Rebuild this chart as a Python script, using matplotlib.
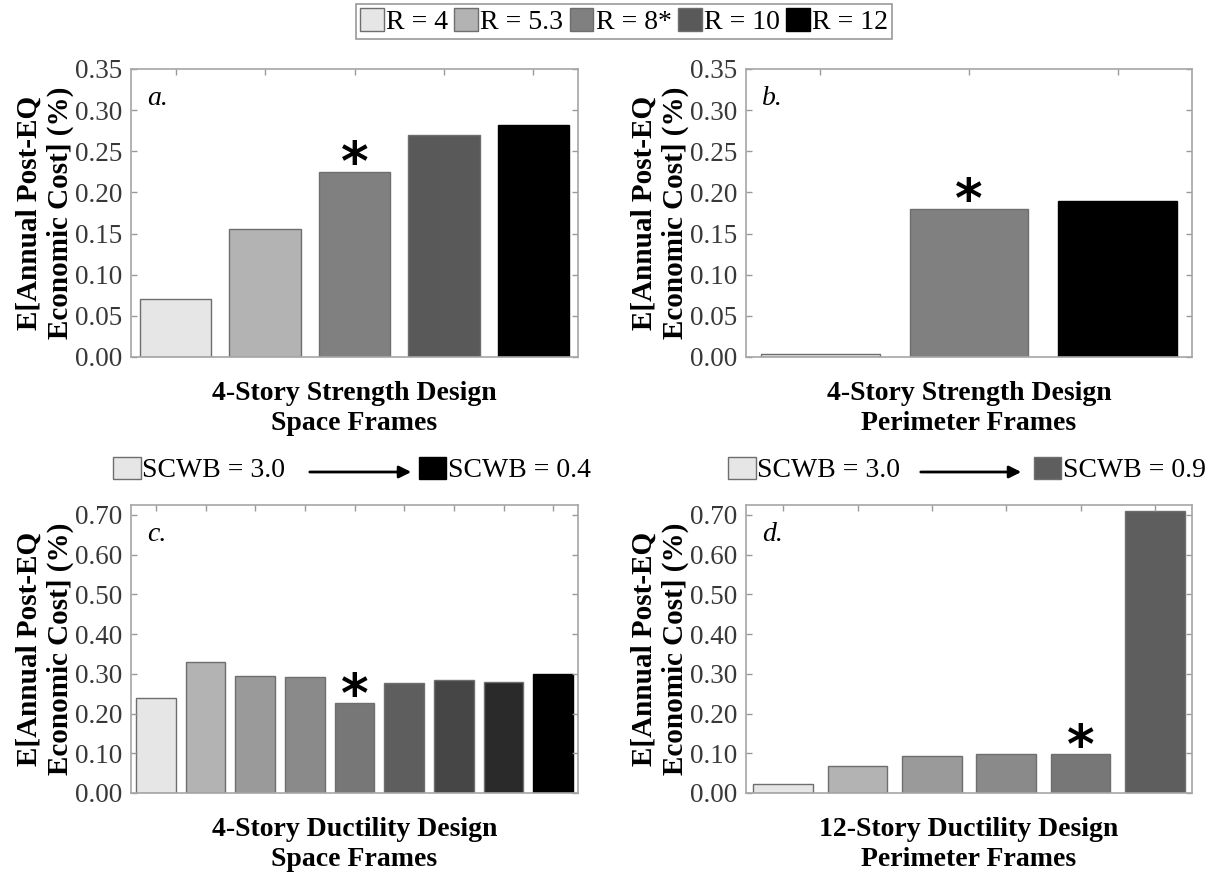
import numpy as np
import matplotlib
matplotlib.use("Agg")
import matplotlib.pyplot as plt
from matplotlib.patches import Patch, FancyArrowPatch

plt.rcParams["font.family"] = ["Liberation Serif", "DejaVu Serif"]

# legend / colours
r_labels = ["R = 4", "R = 5.3", "R = 8*", "R = 10", "R = 12"]
r_colors = ["#e6e6e6", "#b3b3b3", "#808080", "#595959", "#000000"]
scwb_colors = ["#e6e6e6", "#b3b3b3", "#9a9a9a", "#8a8a8a", "#777777",
               "#5e5e5e", "#464646", "#2a2a2a", "#000000"]

# panel data
a_vals = [0.070, 0.156, 0.225, 0.270, 0.282]
a_colors = r_colors
b_vals = [0.004, 0.180, 0.189]
b_colors = ["#e6e6e6", "#808080", "#000000"]
c_vals = [0.239, 0.329, 0.295, 0.291, 0.226, 0.278, 0.285, 0.280, 0.300]
c_colors = scwb_colors
d_vals = [0.023, 0.069, 0.092, 0.097, 0.097, 0.709]
d_colors = scwb_colors[:6]

ylab = "E[Annual Post-EQ\nEconomic Cost] (%)"
W, H = 1215, 875

fig = plt.figure(figsize=(12.15, 8.75), dpi=100)


def px_box(left, top, right, bottom):
    return [left / W, 1 - bottom / H, (right - left) / W, (bottom - top) / H]


def draw_panel(ax, vals, colors, ymax, yticks, star, letter, title):
    x = np.arange(1, len(vals) + 1)
    edges = ["#000000" if c == "#000000" else "#6e6e6e" for c in colors]
    ax.bar(x, vals, width=0.8, color=colors, edgecolor=edges, linewidth=1.0)
    ax.set_xlim(0.5, len(vals) + 0.5)
    ax.set_ylim(0, ymax)
    ax.set_xticks(x)
    ax.set_xticklabels([])
    ax.set_yticks(yticks)
    ax.set_yticklabels([f"{t:.2f}" for t in yticks])
    ax.tick_params(axis="y", direction="in", length=4, width=1, color="#999999",
                   labelsize=19.5, labelcolor="#383838", right=True, pad=6)
    ax.tick_params(axis="x", direction="in", length=4, width=1, color="#999999",
                   top=True, bottom=False)
    for s in ax.spines.values():
        s.set_color("#a6a6a6")
        s.set_linewidth(1.2)
    ax.annotate("*", xy=(x[star], vals[star]), xytext=(0, -6),
                textcoords="offset points", ha="center", va="baseline",
                fontsize=38, fontweight="bold", family="DejaVu Sans")
    ax.annotate(letter, xy=(0, 1), xycoords="axes fraction", xytext=(11.5, -21),
                textcoords="offset points", ha="left", va="center",
                fontsize=20, style="italic")
    ax.annotate(ylab, xy=(0, 0.5), xycoords="axes fraction", xytext=(-62, 0),
                textcoords="offset points", rotation=90, ha="center", va="center",
                fontsize=21, fontweight="bold", linespacing=1.15)
    ax.annotate(title, xy=(0.5, 0), xycoords="axes fraction", xytext=(0, -37),
                textcoords="offset points", ha="center", va="center",
                fontsize=20, fontweight="bold", linespacing=1.25)


ax_a = fig.add_axes(px_box(131, 69, 578, 357))
ax_b = fig.add_axes(px_box(746, 69, 1192, 357))
ax_c = fig.add_axes(px_box(131, 505, 578, 793))
ax_d = fig.add_axes(px_box(746, 505, 1192, 793))

ticks_s = np.round(np.arange(0, 0.351, 0.05), 2)
ticks_d = np.round(np.arange(0, 0.701, 0.10), 2)

draw_panel(ax_a, a_vals, a_colors, 0.35, ticks_s, 2, "a.",
           "4-Story Strength Design\nSpace Frames")
draw_panel(ax_b, b_vals, b_colors, 0.35, ticks_s, 1, "b.",
           "4-Story Strength Design\nPerimeter Frames")
draw_panel(ax_c, c_vals, c_colors, 0.725, ticks_d, 4, "c.",
           "4-Story Ductility Design\nSpace Frames")
draw_panel(ax_d, d_vals, d_colors, 0.725, ticks_d, 4, "d.",
           "12-Story Ductility Design\nPerimeter Frames")

# top legend
handles = [Patch(facecolor=c, edgecolor="#6e6e6e" if c != "#000000" else "#000000")
           for c in r_colors]
leg = fig.legend(handles, r_labels, ncol=5, loc="center",
                 bbox_to_anchor=(624 / W, 1 - 21.5 / H), fontsize=20,
                 handlelength=0.86, handleheight=0.9, handletextpad=0.08,
                 columnspacing=0.22, borderpad=0.15, fancybox=False,
                 edgecolor="#999999", framealpha=1)
leg.get_frame().set_linewidth(1.2)


# SCWB legends with arrow
def scwb_legend(x0, c0, c1, lab1, arrow_x):
    hs = [Patch(facecolor=c0, edgecolor="#6e6e6e"),
          Patch(facecolor=c1, edgecolor="#6e6e6e" if c1 != "#000000" else "#000000")]
    fig.legend(hs, ["SCWB = 3.0", lab1], ncol=2, loc="center left",
               bbox_to_anchor=(x0 / W, 1 - 470 / H), frameon=False,
               borderpad=0, borderaxespad=0, fontsize=20,
               handlelength=1.0, handleheight=0.86, handletextpad=0.05,
               columnspacing=4.8)
    y = 1 - 472 / H
    fig.add_artist(FancyArrowPatch((arrow_x[0] / W, y), (arrow_x[1] / W, y),
                                   transform=fig.transFigure, arrowstyle="-|>",
                                   mutation_scale=18, lw=2, color="black"))


scwb_legend(113, scwb_colors[0], scwb_colors[-1], "SCWB = 0.4", (307, 414))
scwb_legend(728, d_colors[0], d_colors[-1], "SCWB = 0.9", (918, 1024))

fig.savefig("out.png", dpi=100)
